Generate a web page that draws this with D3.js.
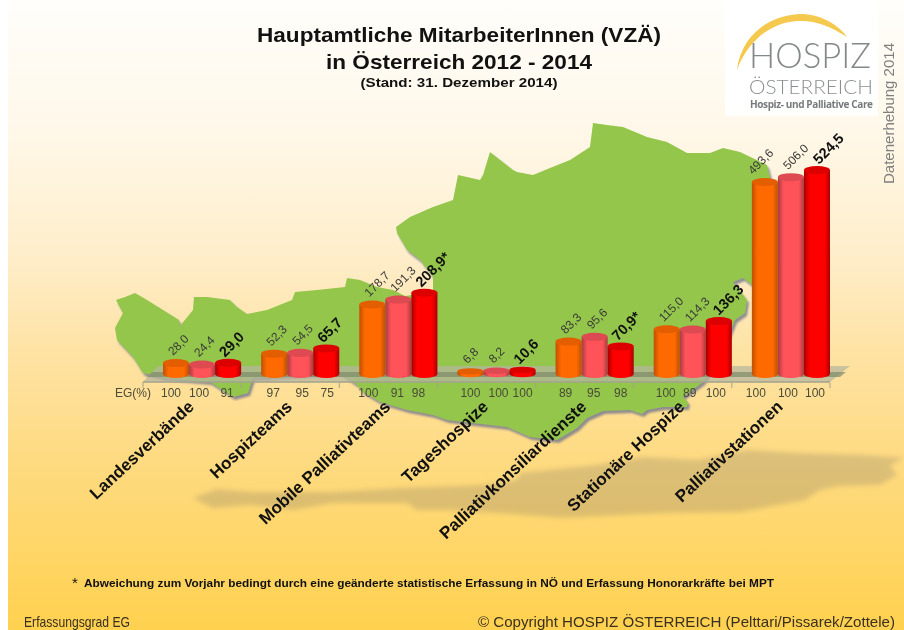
<!DOCTYPE html>
<html><head><meta charset="utf-8">
<script src="https://cdn.jsdelivr.net/npm/d3@7"></script>
<style>html,body{margin:0;padding:0;background:#fff}svg{display:block;filter:blur(.35px)}text{font-family:"Liberation Sans",Arial,sans-serif}</style>
</head><body><div id="c"></div>
<script>
const categories = ["Landesverbände","Hospizteams","Mobile Palliativteams","Tageshospize","Palliativkonsiliardienste","Stationäre Hospize","Palliativstationen"];
const years = ["2012","2013","2014"];
const values2012 = [28.0,52.3,178.7,6.8,83.3,115.0,493.6];
const values2013 = [24.4,54.5,191.3,8.2,95.6,114.3,506.0];
const values2014 = [29.0,65.7,208.9,10.6,70.9,136.3,524.5];
const starred2014 = [false,false,true,false,true,false,false];
const eg2012 = [100,97,100,100,89,100,100];
const eg2013 = [100,95,91,100,95,89,100];
const eg2014 = [91,75,98,100,98,100,100];

// decorative outlines (background artwork, not data)
const austriaOutline = [[116,300],[125,297],[135,293],[147,300],[163,310],[179,320],[180,326],[193,310],[194,297],[207,297],[230,300],[237,307],[247,314],[267,310],[292,300],[295,292],[317,290],[345,287],[347,278],[360,280],[377,287],[393,290],[405,296],[433,292],[433,277],[420,260],[407,250],[397,233],[396,227],[410,217],[433,207],[453,200],[458,175],[480,180],[483,175],[490,152],[513,170],[517,172],[533,175],[550,168],[570,160],[590,147],[593,123],[607,125],[623,127],[647,137],[667,142],[687,153],[710,153],[723,148],[740,152],[767,165],[770,177],[770,285],[752,285],[743,278],[733,282],[747,300],[745,313],[735,320],[725,345],[710,372],[703,382],[683,397],[688,402],[687,407],[663,407],[647,410],[642,414],[630,410],[603,411],[587,418],[577,428],[557,440],[530,437],[507,427],[473,423],[447,420],[433,415],[407,410],[380,402],[363,392],[357,385],[340,373],[253,378],[248,393],[233,397],[210,382],[165,378],[143,373],[133,357],[117,340],[115,328],[123,313]];
const groundShadow = [[193,498],[217,489],[250,492],[333,492],[400,488],[483,485],[517,480],[520,473],[597,465],[643,457],[697,460],[747,450],[797,453],[860,455],[904,458],[890,465],[897,475],[880,485],[840,486],[820,490],[805,500],[740,512],[663,513],[563,518],[497,513],[447,510],[417,510],[407,503],[333,503],[293,510],[250,505],[213,508]];
const egNudge = [[-5,-3,-1],[-1,2,1],[-4,-1,-6],[0,2,0],[-3,-1,0],[-1,-3,-3],[-9,-3,-2]];
const labelNudge = [[0,0,0],[0,0,0],[0,0,0],[0,0,0],[0,0,0],[0,0,3],[-9,0,5]];

const W=904,H=630;
const svg=d3.select("#c").append("svg").attr("width",W).attr("height",H);
const defs=svg.append("defs");
const bg=defs.append("linearGradient").attr("id","bg").attr("x1",0).attr("x2",0).attr("y1",0).attr("y2",1);
[[0,"#fffefb"],[.2,"#fff8ea"],[.4,"#feeecb"],[.55,"#fee3a6"],[.72,"#fedb83"],[1,"#ffd14f"]].forEach(s=>bg.append("stop").attr("offset",s[0]).attr("stop-color",s[1]));
const fShadow=defs.append("filter").attr("id","mapShadow").attr("x","-5%").attr("y","-5%").attr("width","110%").attr("height","110%");
fShadow.append("feDropShadow").attr("dx",2).attr("dy",3).attr("stdDeviation",1.1).attr("flood-color","#7d7d8c").attr("flood-opacity",.85);
defs.append("filter").attr("id","blur").attr("x","-5%").attr("y","-30%").attr("width","110%").attr("height","160%").append("feGaussianBlur").attr("stdDeviation",2.5);

svg.append("rect").attr("x",8).attr("width",W-8).attr("height",H).attr("fill","url(#bg)");

const line=d3.line().curve(d3.curveLinearClosed);
svg.append("path").attr("d",line(groundShadow)).attr("fill","#8f8268").attr("opacity",.3).attr("filter","url(#blur)");
svg.append("path").attr("d",line(austriaOutline)).attr("fill","#93c64b").attr("filter","url(#mapShadow)");

// scales
const x=d3.scaleBand().domain(categories).range([143,830]);
const xi=d3.scaleBand().domain(years).range([20,x.bandwidth()]);
const y=d3.scaleLinear().domain([0,524.5]).range([374,170]);
const rx=xi.bandwidth()/2, ry=4;

// floor
const fl=svg.append("g");
fl.append("path").attr("d",line([[143,382],[158,366],[850,366],[830,382]])).attr("fill","#b5b59f").attr("fill-opacity",.72);
fl.append("path").attr("d",line([[152,372],[846,372],[840,377],[147,377]])).attr("fill","#7e8a6a").attr("fill-opacity",.7);
fl.append("path").attr("d",line([[143,382],[830,382]])).attr("stroke","#a3a38e").attr("stroke-width",1.5).attr("fill","none");

// axis ticks at band edges
svg.append("g").selectAll("line").data(categories).join("line")
 .attr("x1",d=>x(d)+x.step()).attr("x2",d=>x(d)+x.step()).attr("y1",383).attr("y2",388).attr("stroke","#a3a38e");
svg.append("line").attr("x1",143).attr("x2",143).attr("y1",382).attr("y2",388).attr("stroke","#a3a38e");

const palette={
 "2012":{edge:"#c04f00",mid:"#ff6a00",top:"#e35e00"},
 "2013":{edge:"#a83c40",mid:"#ff5259",top:"#dd4a52"},
 "2014":{edge:"#a80000",mid:"#ff0000",top:"#dc0000"}};
years.forEach(k=>{const g=defs.append("linearGradient").attr("id","g"+k);
 [[0,palette[k].edge],[.22,palette[k].mid],[.8,palette[k].mid],[1,palette[k].edge]].forEach(s=>g.append("stop").attr("offset",s[0]).attr("stop-color",s[1]));});

const series=[values2012,values2013,values2014];
const egSeries=[eg2012,eg2013,eg2014];
const fmt=d3.formatLocale({decimal:",",thousands:".",grouping:[3],currency:["","€"]}).format(".1f");
const marks=svg.append("g");
categories.forEach((c,i)=>{
 years.forEach((k,j)=>{
  const v=series[j][i], cx=x(c)+xi(k)+rx, top=y(v), base=y(0);
  const gb=marks.append("g");
  const flat=(base-top)<6;
  const r=flat?3.2:ry;
  gb.append("path").attr("d",`M${cx-rx},${top}L${cx-rx},${base}A${rx},${r} 0 0 0 ${cx+rx},${base}L${cx+rx},${top}Z`).attr("fill",`url(#g${k})`);
  gb.append("ellipse").attr("cx",cx).attr("cy",top).attr("rx",rx).attr("ry",r).attr("fill",palette[k].top);
  // value label
  const bold=j===2;
  const lx=cx+(bold?-3:-3)+labelNudge[i][j], ly=top-(bold?5:7);
  marks.append("text").attr("transform",`translate(${lx},${ly}) rotate(-45)`)
   .attr("font-size",bold?14.5:12).attr("font-weight",bold?"bold":"normal").attr("fill",bold?"#111":"#3a3a3a")
   .text(fmt(v)+(bold&&starred2014[i]?"*":""));
  // EG label
  svg.append("text").attr("x",cx+egNudge[i][j]).attr("y",397).attr("text-anchor","middle").attr("font-size",12).attr("fill","#4a4a3a").text(egSeries[j][i]);
 });
});
svg.append("text").attr("x",151).attr("y",397).attr("text-anchor","end").attr("font-size",12).attr("fill","#4f4a3a").text("EG(%)");

// category axis with rotated labels
const ax=svg.append("g").attr("transform","translate(0,398)").call(d3.axisBottom(x).tickSize(0).tickPadding(0));
ax.select(".domain").remove();
ax.selectAll("text").attr("font-family",null).attr("font-size",null).style("font-size","17px").style("font-weight","bold").attr("fill","#111")
 .attr("text-anchor","end").attr("dy",null).attr("y",0).attr("x",0).attr("transform","translate(3,10) rotate(-43)");

// titles
const T=(t,x0,yy,size,o={})=>svg.append("text").attr("x",x0).attr("y",yy).attr("font-size",size).attr("text-anchor",o.anchor||"middle")
 .attr("font-weight",o.weight||"bold").attr("fill",o.fill||"#111").attr("textLength",o.len||null).attr("lengthAdjust",o.adj||"spacing").text(t);
T("Hauptamtliche MitarbeiterInnen (VZÄ)",459,42,21,{len:404,adj:"spacingAndGlyphs"});
T("in Österreich  2012 - 2014",459,69,21,{len:266,adj:"spacingAndGlyphs"});
T("(Stand: 31. Dezember 2014)",459,87,13.5,{len:197,adj:"spacingAndGlyphs"});

// logo
svg.append("rect").attr("x",725).attr("y",0).attr("width",153).attr("height",116).attr("fill","#fff").attr("opacity",.95);
svg.append("path").attr("d","M737,70C741,35 770,15 800,14C820,14 838,24 847,37C830,26 815,20 798,21C772,22 748,40 737,70Z").attr("fill","#f5c94e");
const LF='Lato,"Open Sans",sans-serif';
T("HOSPIZ",749,68,35,{anchor:"start",weight:300,fill:"#85888a",len:122,adj:"spacingAndGlyphs"}).style("font-family",LF);
T("ÖSTERREICH",749,94,20,{anchor:"start",weight:300,fill:"#8c8f91",len:124,adj:"spacingAndGlyphs"}).style("font-family",LF);
T("Hospiz- und Palliative Care",750,108,10,{anchor:"start",weight:"bold",fill:"#777a7c",len:123}).style("font-family",'"Open Sans",sans-serif');
svg.append("text").attr("transform","translate(894,184) rotate(-90)").attr("font-size",14.5).attr("fill","#808080").attr("textLength",141).attr("lengthAdjust","spacingAndGlyphs").text("Datenerhebung 2014");

// footnotes
T("*",72,588,15,{anchor:"start",weight:"normal"});
T("Abweichung  zum Vorjahr  bedingt  durch eine geänderte statistische  Erfassung  in NÖ und  Erfassung  Honorarkräfte  bei MPT",84,587,10.5,{anchor:"start",len:690,adj:"spacingAndGlyphs"});
T("Erfassungsgrad EG",24,627,14.5,{anchor:"start",weight:"normal",fill:"#3a3020",len:106,adj:"spacingAndGlyphs"});
T("© Copyright HOSPIZ ÖSTERREICH (Pelttari/Pissarek/Zottele)",895,627,14.5,{anchor:"end",weight:"normal",fill:"#3a3020",len:417,adj:"spacingAndGlyphs"});
</script></body></html>
